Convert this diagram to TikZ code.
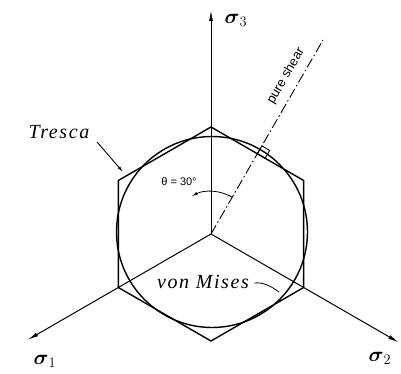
\documentclass[tikz,border=0pt]{standalone}
\usepackage{amsmath}
\usepackage{fontspec}
\usetikzlibrary{arrows.meta}
\newfontfamily\labelserif{Liberation Serif}
\newfontfamily\labelsans{Liberation Sans}
\tikzset{
  axis/.style={line width=1pt,-{Latex[length=11pt,width=4pt]}},
  locus/.style={line width=1.4pt},
  sigmalabel/.style={font=\fontsize{20}{24}\selectfont},
  critlabel/.style={font=\labelserif\itshape\fontsize{20}{24}\selectfont\addfontfeature{LetterSpace=8}},
  smalllabel/.style={font=\labelsans\fontsize{11}{13}\selectfont}
}
\begin{document}
\begin{tikzpicture}[x=1pt,y=1pt]
  \useasboundingbox (-211,-140) rectangle (190,234);
  \coordinate (O) at (0,0);
  % Axes
  \coordinate (s3) at (90:224);
  \coordinate (s1) at (210:212);
  \coordinate (s2) at (330:217);
  \draw[axis] (O) -- (s3);
  \draw[axis] (O) -- (s1);
  \draw[axis] (O) -- (s2);
  \node[sigmalabel] (l3) at (25,214) {$\boldsymbol{\sigma}_3$};
  \node[sigmalabel] (l1) at (-166,-127) {$\boldsymbol{\sigma}_1$};
  \node[sigmalabel] (l2) at (169,-124) {$\boldsymbol{\sigma}_2$};
  % Tresca hexagon and von Mises circle
  \draw[locus] (90:107) -- (150:107) -- (210:107) -- (270:107) -- (330:107) -- (30:107) -- cycle;
  \draw[locus] (1,2) circle[radius=95.5];
  % Pure shear line
  \coordinate (ps) at (60:224);
  \draw[line width=0.9pt,dash pattern=on 10pt off 3pt on 1.5pt off 3pt] (O) -- (ps);
  \node[smalllabel,font=\labelsans\fontsize{13}{15}\selectfont,rotate=60,inner sep=0pt] (shear) at (75,158) {pure shear};
  \coordinate (P) at (60:92.7);
  \draw[line width=0.9pt] (P) -- ++(60:9) -- ++(-30:9) -- ++(240:9) -- cycle;
  % Angle
  \draw[line width=0.8pt,-{Latex[length=6pt,width=3pt]}] (60:42.5) arc[start angle=60,end angle=117,radius=42.5];
  \node[smalllabel] (theta) at (-32,52) {θ = 30°};
  % Labels
  \node[critlabel] (tresca) at (-152,102) {Tresca};
  \coordinate (tr) at (-88,62);
  \draw[line width=0.9pt,-{Latex[length=6pt,width=3pt]}] (-114,92) -- (tr);
  \node[critlabel] (mises) at (-8,-48) {von Mises};
  \coordinate (vm) at (68,-58);
  \draw[line width=0.8pt] (mises.east) ++(2,-1) .. controls (52,-48) and (60,-52) .. (vm);
\end{tikzpicture}
\end{document}
